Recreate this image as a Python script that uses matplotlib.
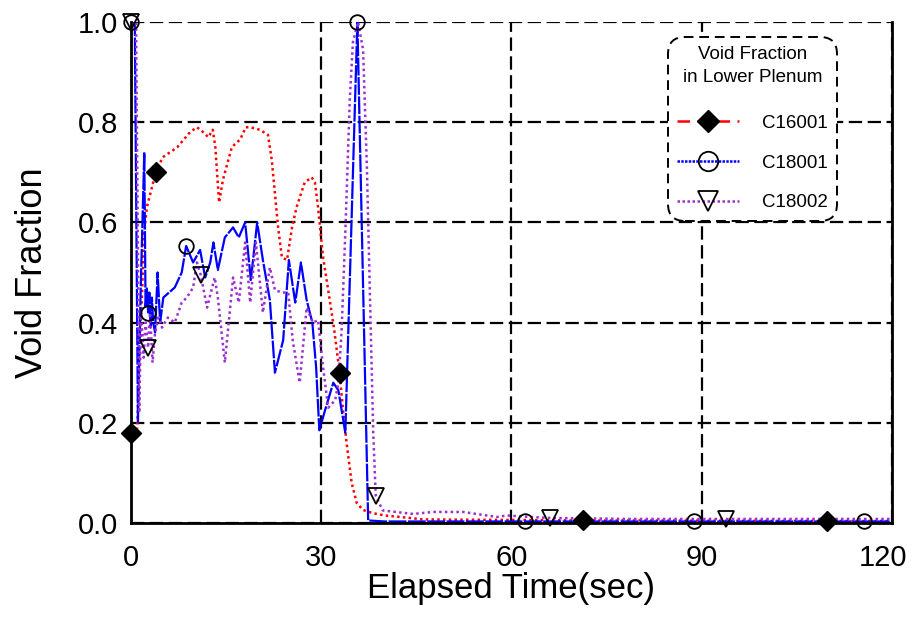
import matplotlib
matplotlib.use("Agg")
import matplotlib.pyplot as plt
import matplotlib.transforms as mtransforms
from matplotlib.lines import Line2D

plt.rcParams['font.family'] = ['Liberation Sans', 'DejaVu Sans']

# C16001 void fraction
red_t = [0, 1.0, 1.4, 1.7, 2.1, 2.5, 3.3, 3.9, 5.0, 7.3, 9.3, 10.4, 11.4, 12.2, 12.9,
         13.3, 13.9, 14.5, 15.9, 16.7, 17.2, 18.1, 18.8, 20.3, 21.6, 22.2, 23.2, 23.8,
         24.6, 25.4, 26.1, 27.4, 28.5, 29.0, 29.5, 30.3, 31.4, 32.0, 32.9, 33.4, 34.0,
         34.8, 35.6, 36.6, 38.0, 40.0, 44.0, 46.0, 60.0, 71.3, 80.0, 109.7, 120]
red_v = [0.18, 0.19, 0.38, 0.445, 0.58, 0.63, 0.67, 0.70, 0.73, 0.75, 0.78, 0.79, 0.78,
         0.77, 0.785, 0.75, 0.64, 0.685, 0.75, 0.76, 0.765, 0.79, 0.79, 0.785, 0.775,
         0.725, 0.59, 0.53, 0.525, 0.59, 0.63, 0.68, 0.69, 0.68, 0.63, 0.53, 0.44, 0.39,
         0.30, 0.23, 0.16, 0.08, 0.04, 0.026, 0.02, 0.015, 0.01, 0.007, 0.006, 0.005,
         0.005, 0.004, 0.004]
red_marks = [0, 3.9, 32.9, 71.3, 109.7]

# C18001 void fraction
blue_t = [0, 0.6, 1.1, 1.5, 2.1, 2.3, 2.5, 2.7, 2.9, 3.1, 3.3, 3.5, 3.8, 4.2, 4.6, 5.1,
          6.9, 8.0, 8.7, 9.8, 10.9, 11.7, 12.5, 13.0, 13.7, 14.8, 16.1, 17.0, 18.0, 18.9,
          19.9, 20.8, 21.9, 22.7, 24.0, 24.9, 25.9, 26.8, 27.7, 28.6, 29.2, 29.7, 30.6,
          31.9, 32.7, 33.8, 35.7, 37.4, 40.0, 62.1, 88.8, 115.6, 120]
blue_v = [1.0, 1.0, 0.2, 0.45, 0.74, 0.43, 0.47, 0.42, 0.46, 0.39, 0.45, 0.40, 0.38,
          0.50, 0.40, 0.45, 0.47, 0.50, 0.553, 0.52, 0.545, 0.49, 0.52, 0.56, 0.505,
          0.57, 0.59, 0.57, 0.60, 0.485, 0.60, 0.525, 0.445, 0.30, 0.365, 0.525, 0.44,
          0.52, 0.445, 0.40, 0.31, 0.185, 0.225, 0.28, 0.265, 0.18, 1.0, 0.005, 0.003,
          0.003, 0.003, 0.003, 0.003]
blue_marks = [0, 2.7, 8.7, 35.7, 62.1, 88.8, 115.6]

# C18002 void fraction
purp_t = [0, 0.8, 1.3, 1.6, 2.0, 2.3, 2.7, 3.0, 3.4, 3.8, 4.3, 4.9, 5.8, 6.9, 8.0, 8.8,
          9.8, 10.4, 11.0, 12.0, 13.2, 13.7, 14.8, 16.1, 17.0, 18.0, 18.8, 19.7, 20.8,
          21.9, 22.7, 23.8, 24.8, 25.5, 26.6, 27.7, 28.7, 29.5, 30.3, 31.1, 32.2, 32.7,
          33.2, 33.8, 34.5, 35.0, 35.8, 36.6, 37.2, 37.7, 38.2, 38.6, 39.7, 44.5, 47.6,
          52.4, 55.0, 57.7, 59.3, 62.9, 66.0, 78.7, 93.8, 120]
purp_v = [1.0, 1.0, 0.22, 0.42, 0.33, 0.40, 0.35, 0.42, 0.32, 0.38, 0.41, 0.39, 0.41,
          0.40, 0.44, 0.45, 0.47, 0.52, 0.495, 0.43, 0.49, 0.45, 0.32, 0.49, 0.44, 0.56,
          0.44, 0.56, 0.42, 0.51, 0.465, 0.46, 0.46, 0.365, 0.28, 0.43, 0.40, 0.405,
          0.31, 0.23, 0.245, 0.28, 0.38, 0.58, 0.845, 0.96, 1.0, 0.945, 0.71, 0.445,
          0.18, 0.054, 0.025, 0.018, 0.022, 0.022, 0.017, 0.012, 0.015, 0.012, 0.01,
          0.008, 0.008, 0.008]
purp_marks = [0, 2.7, 11.0, 38.6, 66.0, 93.8]

labels = ['C16001', 'C18001', 'C18002']
purple = '#9b30d0'

fig = plt.figure(figsize=(9.14, 6.17), dpi=100)
ax = fig.add_axes([0.1433, 0.1524, 0.8326, 0.8119])

ax.plot(red_t, red_v, color='red', lw=1.8, ls=(0, (1, 1.3)))
ax.plot(blue_t, blue_v, color='blue', lw=1.6, ls=(0, (8, 0.7)))
ax.plot(purp_t, purp_v, color=purple, lw=1.8, ls=(0, (1, 1.3)))

# markers sit on the curves at selected samples
ax.plot(red_marks, [red_v[red_t.index(t)] for t in red_marks], ls='none',
        marker='D', ms=10.5, mfc='black', mec='black', zorder=5, clip_on=False)
ax.plot(blue_marks, [blue_v[blue_t.index(t)] for t in blue_marks], ls='none',
        marker='o', ms=10.5, mfc='none', mec='black', mew=1.3, zorder=5, clip_on=False)
ax.plot(purp_marks, [purp_v[purp_t.index(t)] for t in purp_marks], ls='none',
        marker='v', ms=11.5, mfc='none', mec='black', mew=1.3, zorder=5, clip_on=False)

ax.set_xlim(0, 120)
ax.set_ylim(0, 1.0)
ax.set_xticks([0, 30, 60, 90, 120])
ax.set_yticks([0.0, 0.2, 0.4, 0.6, 0.8, 1.0])
ax.set_yticklabels(['0.0', '0.2', '0.4', '0.6', '0.8', '1.0'])
ax.grid(True, color='black', lw=1.6, ls=(0, (6, 2.5)))
ax.set_axisbelow(True)
ax.spines['top'].set_visible(False)
for s in ['left', 'bottom', 'right']:
    ax.spines[s].set_linewidth(2)
ax.tick_params(labelsize=21, length=0)
ax.tick_params(axis='x', pad=15)
ax.tick_params(axis='y', pad=9)

# keep the last x label inside the figure
last = ax.xaxis.get_major_ticks()[-1].label1
last.set_transform(last.get_transform() +
                   mtransforms.ScaledTranslation(-9 / 100, 0, fig.dpi_scale_trans))

ax.set_xlabel('Elapsed Time(sec)', fontsize=25, labelpad=0)
ax.set_ylabel('Void Fraction', fontsize=26, labelpad=20)

handles = [
    Line2D([], [], color='red', lw=1.8, ls=(0, (5, 3)), marker='D', ms=11,
           mfc='black', mec='black'),
    Line2D([], [], color='blue', lw=1.8, ls=(0, (1, 0.5)), marker='o', ms=14,
           mfc='none', mec='black', mew=1.3),
    Line2D([], [], color=purple, lw=1.8, ls=(0, (1, 1)), marker='v', ms=14,
           mfc='none', mec='black', mew=1.3),
]
leg = ax.legend(handles, labels, title='Void Fraction\nin Lower Plenum',
                fontsize=13.5, title_fontsize=13.5, loc='upper left',
                bbox_to_anchor=(0.7057, 0.970), borderaxespad=0,
                handlelength=3.3, handletextpad=1.2, labelspacing=1.2,
                borderpad=0.5, fancybox=True, framealpha=1)
leg.get_title().set_multialignment('center')
leg.get_title().set_linespacing(1.4)
frame = leg.get_frame()
frame.set_edgecolor('black')
frame.set_linestyle((0, (5, 3)))
frame.set_linewidth(1.4)
frame.set_boxstyle('round,pad=0,rounding_size=0.9')
leg._legend_box.sep = 21

fig.savefig('out.png', dpi=100)
